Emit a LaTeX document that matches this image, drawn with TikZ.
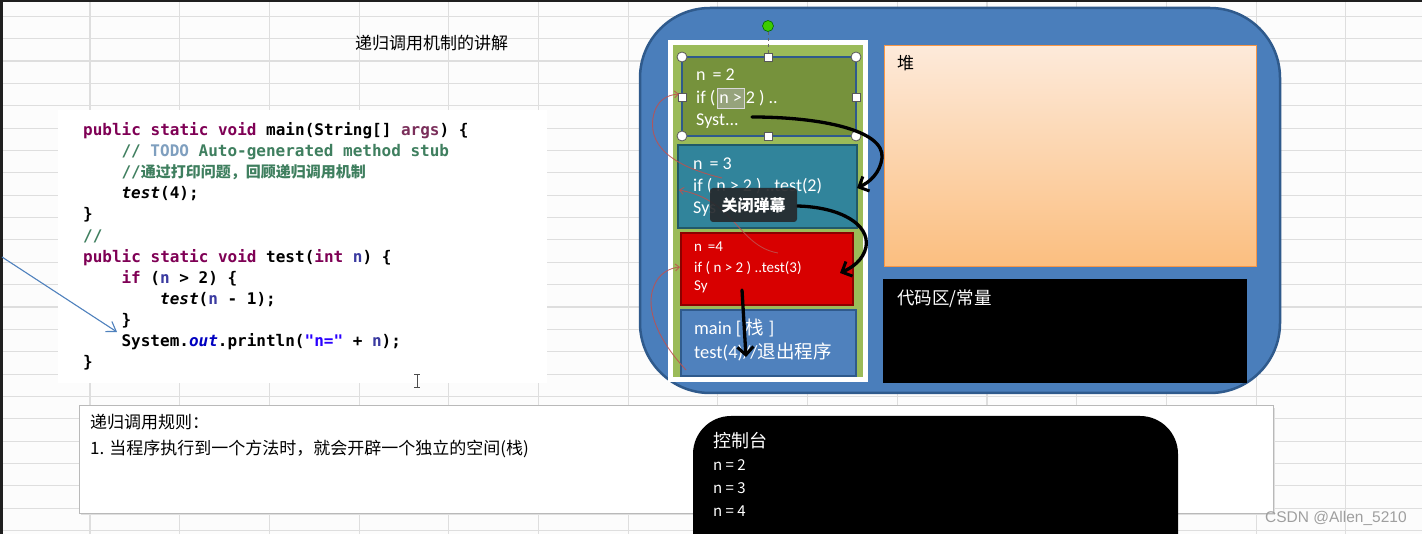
\documentclass[tikz,border=0pt]{standalone}
\usepackage{fontspec}
\setmainfont{Carlito}
\newfontfamily\cjk{Noto Sans CJK SC}
\newfontfamily\codefont{DejaVu Sans Mono}[Ligatures=TeXOff]
\newfontfamily\wmfont{Liberation Sans}
\usetikzlibrary{arrows.meta}
\definecolor{kw}{HTML}{7F0055}
\definecolor{kwp}{HTML}{7A2E5A}
\definecolor{cm}{HTML}{3F7F5F}
\definecolor{todo}{HTML}{7F9FBF}
\definecolor{strc}{HTML}{2A00FF}
\definecolor{fld}{HTML}{0000C0}
\definecolor{par}{HTML}{3A3AA0}
\definecolor{gridc}{HTML}{DEDEDE}
\definecolor{bigblue}{HTML}{4A7EBB}
\definecolor{bigblueb}{HTML}{2F5A8C}
\definecolor{stackgreen}{HTML}{9BBB59}
\definecolor{olive}{HTML}{76923C}
\definecolor{teal}{HTML}{31849B}
\definecolor{tealb}{HTML}{215968}
\definecolor{redf}{HTML}{D80000}
\definecolor{redb}{HTML}{8B0000}
\definecolor{mainf}{HTML}{4F81BD}
\definecolor{mainb}{HTML}{2F5A8C}
\definecolor{heaptop}{HTML}{FDEADA}
\definecolor{heapbot}{HTML}{FBBE7F}
\definecolor{heapb}{HTML}{F79646}
\definecolor{redline}{HTML}{C0504D}
\definecolor{tipc}{HTML}{262A2E}
\tikzset{
  gridline/.style={draw=gridc, line width=1.1pt},
  codeln/.style={anchor=base west, inner sep=0pt, font=\codefont\bfseries\fontsize{16}{16}\selectfont},
  frametxt/.style={anchor=base west, inner sep=0pt, text=white, font=\fontsize{18}{18}\selectfont},
  smalltxt/.style={anchor=base west, inner sep=0pt, text=white, font=\fontsize{15}{15}\selectfont},
  cjktxt/.style={anchor=base west, inner sep=0pt, font=\cjk\fontsize{17}{17}\selectfont},
  handlecirc/.style={circle, fill=white, draw=gray!70!black, line width=0.8pt, minimum size=10pt, inner sep=0pt},
  handlesq/.style={rectangle, fill=white, draw=gray!70!black, line width=0.8pt, minimum size=8pt, inner sep=0pt},
  blackarrow/.style={draw=black, line width=3.3pt, line cap=round, -{Straight Barb[length=8pt,width=16pt,line width=3pt]}},
  redarrow/.style={draw=redline, opacity=0.85, line width=0.9pt, -{Straight Barb[length=4pt,width=7pt]}},
}
\begin{document}
\begin{tikzpicture}[x=1pt,y=-1pt]
\useasboundingbox (0,0) rectangle (1422,534);
% background and spreadsheet grid
\fill[white!98!gray] (0,0) rectangle (1422,534);
\foreach \i in {0,...,14} \draw[gridline] ({90+89.7*\i},0) -- ({90+89.7*\i},534);
\foreach \j in {0,...,23} \draw[gridline] (0,{16.3+22.36*\j}) -- (1422,{16.3+22.36*\j});
\fill[black!88] (0,0) rectangle (3,534);
\fill[black!88] (0,0) rectangle (1422,2);

% title
\node[cjktxt] (title) at (355,49.5) {递归调用机制的讲解};

% code area
\fill[white] (58,110) rectangle (547,383);
\node[codeln] (c1) at (83,136) {{\color{kw}public static void} main(String[] {\color{kwp}args}) \{};
\node[codeln] (c2) at (121.4,157) {{\color{cm}//} {\color{todo}TODO} {\color{cm}Auto-generated method stub}};
\node[codeln] (c3) at (121.4,178) {{\color{cm}//{\cjk\bfseries\fontsize{15}{15}\selectfont 通过打印问题，回顾递归调用机制}}};
\node[codeln] (c4) at (121.4,199) {{\itshape test}(4);};
\node[codeln] (c5) at (83,220) {\}};
\node[codeln] (c6) at (83,242) {{\color{cm}//}};
\node[codeln] (c7) at (83,263) {{\color{kw}public static void} test({\color{kw}int} {\color{par}n}) \{};
\node[codeln] (c8) at (121.4,284) {{\color{kw}if} ({\color{par}n} > 2) \{};
\node[codeln] (c9) at (160,305) {{\itshape test}({\color{par}n} - 1);};
\node[codeln] (c10) at (121.4,326) {\}};
\node[codeln] (c11) at (121.4,347) {System.{\color{fld}\itshape out}.println({\color{strc}"n="} + {\color{par}n});};
\node[codeln] (c12) at (83,368) {\}};
% text cursor
\draw[black!70, line width=1pt] (414,375) -- (420,375) (417,375) -- (417,388) (414,388) -- (420,388);
% blue pointer arrow
\coordinate (bs) at (2,257);
\coordinate (be) at (117,332);
\draw[draw=mainf, line width=1.1pt, -{Straight Barb[length=9pt,width=12pt]}] (bs) -- (be);

% JVM memory outline
\draw[fill=bigblue, draw=bigblueb, line width=2.5pt, rounded corners=70pt] (640,8) rectangle (1280,393);
% stack
\fill[white] (668,40) rectangle (868,382);
\fill[stackgreen] (673,45) rectangle (863,377);
% frame n=2 (selected)
\draw[fill=olive, draw=mainb, line width=2pt] (682,57) rectangle (856,136);
\fill[gray!60, opacity=0.55] (717,88) rectangle (744,108);
\draw[gray!30, line width=0.8pt] (717,88) rectangle (744,108);
\node[frametxt] (t21) at (696,81) {n \,= 2};
\node[frametxt] (t22) at (696,103.5) {if ( n > 2 ) ..};
\node[frametxt] (t23) at (696,125.5) {Syst...};
% frame n=3
\draw[fill=teal, draw=tealb, line width=1.5pt] (678,145) rectangle (857,228);
\node[frametxt] (t31) at (693,169.5) {n \,= 3};
\node[frametxt] (t32) at (693,191.5) {if ( n > 2 ) ..test(2)};
\node[frametxt] (t33) at (693,214) {Sys};
% frame n=4
\draw[fill=redf, draw=redb, line width=1.5pt] (681,233) rectangle (853,305);
\node[smalltxt] (t41) at (694,252) {n \,=4};
\node[smalltxt] (t42) at (694,272.5) {if ( n > 2 ) ..test(3)};
\node[smalltxt] (t43) at (694,290.5) {Sy};
% main frame
\draw[fill=mainf, draw=mainb, line width=1.5pt] (681,310) rectangle (856,376);
\node[frametxt, font=\fontsize{18.5}{18.5}\selectfont] (m1) at (694,334.5) {main [ {\cjk 栈} ]};
\node[frametxt, font=\fontsize{18.5}{18.5}\selectfont] (m2) at (694,358.5) {test(4)//{\cjk 退出程序}};
% selection handles
\node[handlecirc] (h1) at (682,57) {};
\node[handlecirc] (h2) at (856,57) {};
\node[handlecirc] (h3) at (682,136) {};
\node[handlecirc] (h4) at (856,136) {};
\node[handlesq] (h5) at (768,57) {};
\node[handlesq] (h6) at (682,97) {};
\node[handlesq] (h7) at (856,97) {};
\node[handlesq] (h8) at (768,136) {};
\node[circle, fill=green!60!lime!80!black, draw=green!40!black, line width=0.6pt, minimum size=11pt, inner sep=0pt] (rot) at (768,26) {};
\draw[gray!80!black, dashed, line width=0.8pt] (rot) -- (h5);

% heap
\draw[top color=heaptop, bottom color=heapbot, draw=heapb, line width=1pt] (884,46) rectangle (1256,267);
\node[cjktxt] (heap) at (897,69.5) {堆};
% code / constants
\fill[black] (883,279) rectangle (1247,383);
\node[cjktxt, text=white, font=\cjk\fontsize{17.5}{17.5}\selectfont] (ca) at (897,304.5) {代码区/常量};

% red return curves
\coordinate (r1s) at (722,178);
\coordinate (r1e) at (679,94);
\draw[redarrow] (r1s) .. controls (680,168) and (648,150) .. (653,118) .. controls (656,100) and (667,95) .. (r1e);
\coordinate (r2s) at (778,253);
\coordinate (r2e) at (679,190);
\draw[redarrow] (r2s) .. controls (738,246) and (735,200) .. (r2e);
\coordinate (r3s) at (686,370);
\coordinate (r3e) at (680,267);
\draw[redarrow] (r3s) .. controls (660,342) and (644,310) .. (654,286) .. controls (659,273) and (670,268) .. (r3e);

% black call arrows
\coordinate (a1s) at (752,117);
\coordinate (a1e) at (857,188);
\draw[blackarrow] (a1s) .. controls (820,117) and (885,130) .. (882,158) .. controls (880,173) and (870,182) .. (a1e);
\coordinate (a2s) at (797,206);
\coordinate (a2e) at (840,273);
\draw[blackarrow] (a2s) .. controls (840,207) and (870,224) .. (866,247) .. controls (863,261) and (851,268) .. (a2e);
\coordinate (a3s) at (742,290);
\coordinate (a3e) at (746,357);
\draw[blackarrow] (a3s) -- (a3e);

% danmaku tooltip
\node[rectangle, rounded corners=3pt, fill=tipc, opacity=0.93, text opacity=1, text=white, minimum width=87pt, minimum height=34pt, inner sep=0pt, font=\cjk\bfseries\fontsize{16}{16}\selectfont] (tip) at (753.5,205) {关闭弹幕};

% rules box
\fill[gray!25] (81,408) rectangle (1275,515);
\draw[fill=white, draw=gray!55, line width=1pt] (79,406) rectangle (1273,513);
\node[cjktxt] (rule1) at (90,428.5) {递归调用规则：};
\node[cjktxt] (rule2) at (90,454.5) {1. 当程序执行到一个方法时，就会开辟一个独立的空间(栈)};

% console (extends below the visible page)
\fill[black, rounded corners=38pt] (693,416) rectangle (1178,600);
\node[cjktxt, text=white, font=\cjk\fontsize{18}{18}\selectfont] (con) at (713,447.5) {控制台};
\node[cjktxt, text=white, font=\cjk\fontsize{15}{15}\selectfont] (o1) at (713,470.5) {n = 2};
\node[cjktxt, text=white, font=\cjk\fontsize{15}{15}\selectfont] (o2) at (713,493.5) {n = 3};
\node[cjktxt, text=white, font=\cjk\fontsize{15}{15}\selectfont] (o3) at (713,516.5) {n = 4};

% watermark
\node[anchor=base west, inner sep=0pt, text=gray!75, font=\wmfont\fontsize{15.5}{15.5}\selectfont] (wm) at (1265,522.5) {CSDN @Allen\_5210};
\end{tikzpicture}
\end{document}
